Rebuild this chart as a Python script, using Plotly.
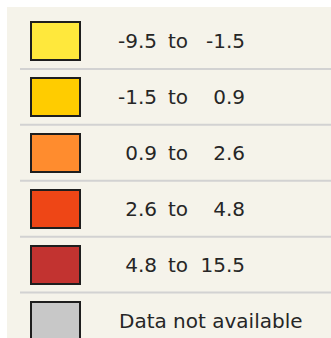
import plotly.graph_objects as go

# Class breaks of the choropleth legend and the fill colour of each class
breaks = [-9.5, -1.5, 0.9, 2.6, 4.8, 15.5]
class_colors = ["#FFE83C", "#FFCC00", "#FF8C2E", "#EE4616", "#C23330"]
missing_label = "Data not available"
missing_color = "#C8C8C8"

lower = breaks[:-1]
upper = breaks[1:]
n_classes = len(class_colors)
rows = list(range(n_classes + 1))
fills = class_colors + [missing_color]

# Layout constants (pixel-like x axis, one unit per legend row on y)
W, H = 331, 338
ROW_PITCH = 55.9
FIRST_ROW_PX = 41
SWATCH_X0, SWATCH_W, SWATCH_H = 31, 49, 38
LOW_RIGHT, TO_CENTER, HIGH_RIGHT, LABEL_LEFT = 157, 178, 245, 119
FONT = dict(family="DejaVu Sans", size=20, color="#262626")
TEXT_DY = 0.04

fig = go.Figure()

# Colour swatches as horizontal bars, one per row
fig.add_trace(go.Bar(
    y=rows,
    x=[SWATCH_W] * len(rows),
    base=SWATCH_X0,
    orientation="h",
    width=SWATCH_H / ROW_PITCH,
    marker=dict(color=fills, line=dict(color="#1E1E1E", width=2)),
    hoverinfo="skip",
    showlegend=False,
))

class_rows = [r + TEXT_DY for r in rows[:n_classes]]

# Lower bound of each class, right-aligned
fig.add_trace(go.Scatter(
    x=[LOW_RIGHT] * n_classes, y=class_rows, mode="text",
    text=[f"{v:.1f}" for v in lower], textposition="middle left",
    textfont=FONT, showlegend=False, hoverinfo="skip",
))
# "to" separator
fig.add_trace(go.Scatter(
    x=[TO_CENTER] * n_classes, y=class_rows, mode="text",
    text=["to"] * n_classes, textposition="middle center",
    textfont=FONT, showlegend=False, hoverinfo="skip",
))
# Upper bound of each class, right-aligned
fig.add_trace(go.Scatter(
    x=[HIGH_RIGHT] * n_classes, y=class_rows, mode="text",
    text=[f"{v:.1f}" for v in upper], textposition="middle left",
    textfont=FONT, showlegend=False, hoverinfo="skip",
))
# Missing-data row
fig.add_trace(go.Scatter(
    x=[LABEL_LEFT], y=[rows[-1] + TEXT_DY], mode="text",
    text=[missing_label], textposition="middle right",
    textfont=FONT, showlegend=False, hoverinfo="skip",
))

shapes = [
    # beige legend panel
    dict(type="rect", xref="paper", yref="paper", x0=7 / W, x1=1.01,
         y0=-0.01, y1=1 - 7 / H, fillcolor="#F5F3EA", line=dict(width=0),
         layer="below"),
]
# thin rules between rows
for r in rows[:-1]:
    shapes.append(dict(type="line", xref="x", yref="y", x0=20, x1=W + 2,
                       y0=r + 0.5, y1=r + 0.5,
                       line=dict(color="#D2D2D2", width=2), layer="below"))

y_top = -FIRST_ROW_PX / ROW_PITCH
y_bottom = (H - FIRST_ROW_PX) / ROW_PITCH

fig.update_layout(
    width=W, height=H,
    margin=dict(l=0, r=0, t=0, b=0),
    paper_bgcolor="white", plot_bgcolor="rgba(0,0,0,0)",
    shapes=shapes,
    xaxis=dict(range=[0, W], visible=False, fixedrange=True),
    yaxis=dict(range=[y_bottom, y_top], visible=False, fixedrange=True),
    bargap=0,
)

fig.write_html("out.html", config={"displayModeBar": False})
